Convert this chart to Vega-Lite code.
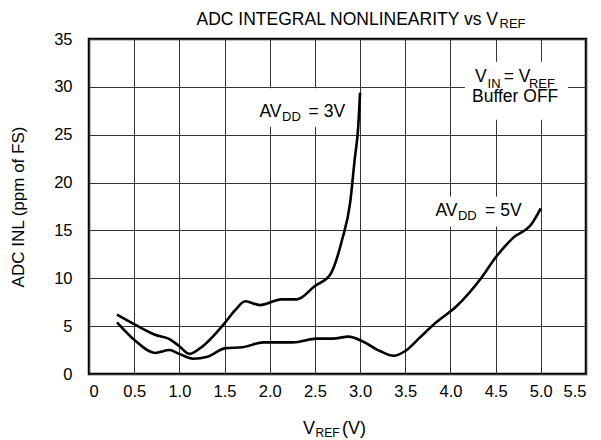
{
  "$schema": "https://vega.github.io/schema/vega-lite/v6.json",
  "width": 497,
  "height": 335,
  "autosize": {"type": "none"},
  "padding": {"left": 89, "top": 39, "right": 15, "bottom": 66},
  "background": "white",
  "config": {
    "view": {"stroke": "black", "strokeWidth": 2.5},
    "font": "Liberation Sans",
    "text": {"font": "Liberation Sans", "color": "black"}
  },
  "datasets": {
    "curves": [
      {"series": "3V", "x": 0.31, "y": 6.2},
      {"series": "3V", "x": 0.51, "y": 5.15},
      {"series": "3V", "x": 0.73, "y": 4.1},
      {"series": "3V", "x": 0.9, "y": 3.6},
      {"series": "3V", "x": 1.0, "y": 2.9},
      {"series": "3V", "x": 1.11, "y": 2.1},
      {"series": "3V", "x": 1.23, "y": 2.7},
      {"series": "3V", "x": 1.5, "y": 5.3},
      {"series": "3V", "x": 1.62, "y": 6.7},
      {"series": "3V", "x": 1.73, "y": 7.6},
      {"series": "3V", "x": 1.89, "y": 7.2},
      {"series": "3V", "x": 2.13, "y": 7.8},
      {"series": "3V", "x": 2.3, "y": 7.8},
      {"series": "3V", "x": 2.5, "y": 9.2},
      {"series": "3V", "x": 2.67, "y": 10.4},
      {"series": "3V", "x": 2.8, "y": 14.0},
      {"series": "3V", "x": 2.89, "y": 17.9},
      {"series": "3V", "x": 2.94, "y": 22.4},
      {"series": "3V", "x": 2.98, "y": 25.9},
      {"series": "3V", "x": 3.0, "y": 29.4},
      {"series": "5V", "x": 0.31, "y": 5.4},
      {"series": "5V", "x": 0.51, "y": 3.5},
      {"series": "5V", "x": 0.73, "y": 2.2},
      {"series": "5V", "x": 0.89, "y": 2.5},
      {"series": "5V", "x": 1.0, "y": 2.1},
      {"series": "5V", "x": 1.15, "y": 1.6},
      {"series": "5V", "x": 1.31, "y": 1.8},
      {"series": "5V", "x": 1.51, "y": 2.7},
      {"series": "5V", "x": 1.7, "y": 2.8},
      {"series": "5V", "x": 1.93, "y": 3.3},
      {"series": "5V", "x": 2.26, "y": 3.3},
      {"series": "5V", "x": 2.52, "y": 3.7},
      {"series": "5V", "x": 2.7, "y": 3.7},
      {"series": "5V", "x": 2.87, "y": 3.9},
      {"series": "5V", "x": 3.03, "y": 3.4},
      {"series": "5V", "x": 3.22, "y": 2.4},
      {"series": "5V", "x": 3.37, "y": 1.9},
      {"series": "5V", "x": 3.5, "y": 2.4},
      {"series": "5V", "x": 3.66, "y": 3.8},
      {"series": "5V", "x": 3.83, "y": 5.3},
      {"series": "5V", "x": 4.07, "y": 7.1},
      {"series": "5V", "x": 4.33, "y": 9.9},
      {"series": "5V", "x": 4.51, "y": 12.3},
      {"series": "5V", "x": 4.69, "y": 14.2},
      {"series": "5V", "x": 4.9, "y": 15.7},
      {"series": "5V", "x": 5.0, "y": 17.3}
    ],
    "boxes": [
      {"x": 1.84, "x2": 2.89, "y": 25.84, "y2": 29.85},
      {"x": 4.16, "x2": 5.3, "y": 26.57, "y2": 32.63},
      {"x": 3.77, "x2": 4.86, "y": 15.4, "y2": 18.55}
    ],
    "mainRight": [
      {"text": "ADC INTEGRAL NONLINEARITY vs V", "x": 4.526, "y": 36.5},
      {"text": "AV", "x": 2.13, "y": 26.88},
      {"text": "AV", "x": 4.078, "y": 16.54},
      {"text": "V", "x": 4.4, "y": 30.54}
    ],
    "mainLeft": [
      {"text": "= 3V", "x": 2.43, "y": 26.88},
      {"text": "= 5V", "x": 4.383, "y": 16.54},
      {"text": "= V", "x": 4.59, "y": 30.54}
    ],
    "mainCenter": [
      {"text": "Buffer OFF", "x": 4.716, "y": 28.4}
    ],
    "subs": [
      {"text": "REF", "x": 4.543, "y": 36.13},
      {"text": "DD", "x": 2.136, "y": 26.46},
      {"text": "DD", "x": 4.083, "y": 16.12},
      {"text": "IN", "x": 4.411, "y": 29.88},
      {"text": "REF", "x": 4.869, "y": 29.88}
    ],
    "axisMainRight": [
      {"text": "V", "x": 2.501, "y": -6.26}
    ],
    "axisMainLeft": [
      {"text": "(V)", "x": 2.8, "y": -6.26}
    ],
    "axisSub": [
      {"text": "REF", "x": 2.507, "y": -6.62}
    ]
  },
  "encoding": {
    "x": {
      "field": "x",
      "type": "quantitative",
      "scale": {"domain": [0, 5.5], "nice": false, "zero": false},
      "axis": {
        "values": [0, 0.5, 1, 1.5, 2, 2.5, 3, 3.5, 4, 4.5, 5, 5.5],
        "labelExpr": "datum.value == 0 ? '0' : format(datum.value, '.1f')",
        "title": null,
        "domain": false,
        "ticks": false,
        "grid": true,
        "gridColor": "#333333",
        "gridWidth": 1,
        "gridOpacity": 1,
        "labelFontSize": 16.5,
        "labelColor": "black",
        "labelPadding": 9,
        "labelFont": "Liberation Sans"
      }
    },
    "y": {
      "field": "y",
      "type": "quantitative",
      "scale": {"domain": [0, 35], "nice": false, "zero": false},
      "axis": {
        "values": [0, 5, 10, 15, 20, 25, 30, 35],
        "title": "ADC INL (ppm of FS)",
        "titleFontSize": 17,
        "titleFontWeight": "normal",
        "titleColor": "black",
        "titleFont": "Liberation Sans",
        "titlePadding": 26,
        "domain": false,
        "ticks": false,
        "grid": true,
        "gridColor": "#333333",
        "gridWidth": 1,
        "gridOpacity": 1,
        "labelFontSize": 16.5,
        "labelColor": "black",
        "labelPadding": 17,
        "labelFont": "Liberation Sans"
      }
    }
  },
  "layer": [
    {
      "data": {"name": "boxes"},
      "mark": {"type": "rect", "color": "white", "opacity": 1},
      "encoding": {
        "x2": {"field": "x2"},
        "y2": {"field": "y2"}
      }
    },
    {
      "data": {"name": "curves"},
      "mark": {"type": "line", "color": "black", "strokeWidth": 2.6, "interpolate": "monotone"},
      "encoding": {
        "detail": {"field": "series"}
      }
    },
    {
      "data": {"name": "mainRight"},
      "mark": {"type": "text", "align": "right", "baseline": "alphabetic", "fontSize": 17.5},
      "encoding": {"text": {"field": "text"}}
    },
    {
      "data": {"name": "mainLeft"},
      "mark": {"type": "text", "align": "left", "baseline": "alphabetic", "fontSize": 17.5},
      "encoding": {"text": {"field": "text"}}
    },
    {
      "data": {"name": "mainCenter"},
      "mark": {"type": "text", "align": "center", "baseline": "alphabetic", "fontSize": 17.5},
      "encoding": {"text": {"field": "text"}}
    },
    {
      "data": {"name": "subs"},
      "mark": {"type": "text", "align": "left", "baseline": "alphabetic", "fontSize": 13},
      "encoding": {"text": {"field": "text"}}
    },
    {
      "data": {"name": "axisMainRight"},
      "mark": {"type": "text", "align": "right", "baseline": "alphabetic", "fontSize": 18},
      "encoding": {"text": {"field": "text"}}
    },
    {
      "data": {"name": "axisMainLeft"},
      "mark": {"type": "text", "align": "left", "baseline": "alphabetic", "fontSize": 18},
      "encoding": {"text": {"field": "text"}}
    },
    {
      "data": {"name": "axisSub"},
      "mark": {"type": "text", "align": "left", "baseline": "alphabetic", "fontSize": 12},
      "encoding": {"text": {"field": "text"}}
    }
  ]
}
